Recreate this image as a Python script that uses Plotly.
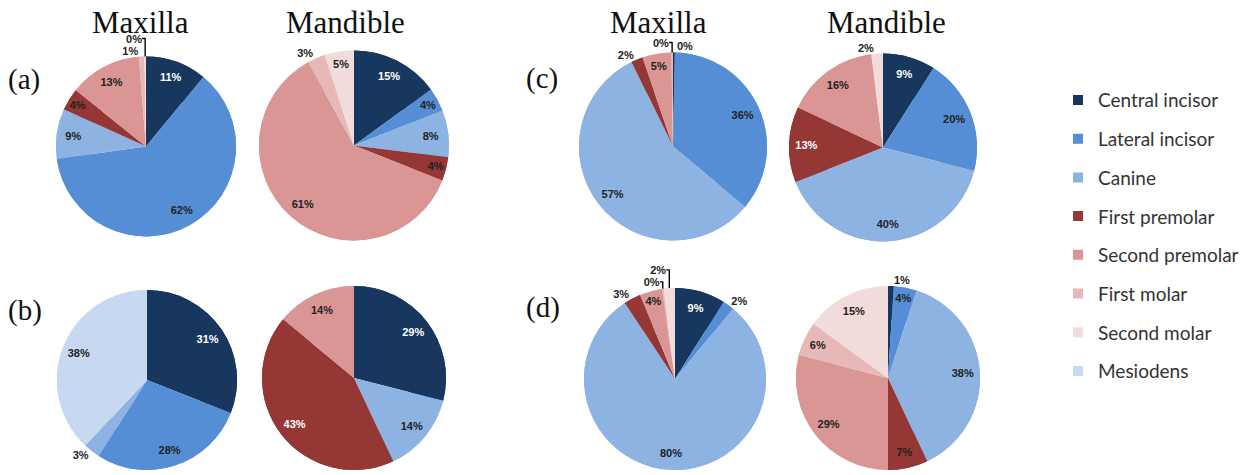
import plotly.graph_objects as go

# Tooth categories, in slice order (clockwise from 12 o'clock)
categories = ["Central incisor", "Lateral incisor", "Canine", "First premolar",
              "Second premolar", "First molar", "Second molar", "Mesiodens"]
colors = ["#17375e", "#558ed5", "#8db3e2", "#953735",
          "#d99694", "#e6b9b8", "#f2dcdb", "#c6d9f1"]
dark_colors = {"#17375e", "#953735"}

# Percent per category; None means the category is absent from that chart.
# Slivers labelled "0%" carry a small fraction so they stay visible.
a_maxilla = [11, 62, 9, 4, 13, 1, 0.3, None]
a_mandible = [15, 4, 8, 4, 61, 3, 5, None]
b_maxilla = [31, 28, 3, None, None, None, None, 38]
b_mandible = [29, None, 14, 43, 14, None, None, None]
c_maxilla = [0.3, 36, 57, 2, 5, 0.3, None, None]
c_mandible = [9, 20, 40, 13, 16, None, 2, None]
d_maxilla = [9, 2, 80, 3, 4, 0.3, 2, None]
d_mandible = [1, 4, 38, 7, 29, 6, 15, None]

column_titles = ["Maxilla", "Mandible", "Maxilla", "Mandible"]
panel_labels = ["(a)", "(b)", "(c)", "(d)"]

W, H = 1259, 475

# (values, centre x px, centre y px, radius px)
pies = [
    (a_maxilla, 146, 148, 91),
    (a_mandible, 354, 147, 96),
    (b_maxilla, 147, 384, 91),
    (b_mandible, 354, 382, 93),
    (c_maxilla, 673, 148, 95),
    (c_mandible, 883, 149, 95),
    (d_maxilla, 675, 383, 92),
    (d_mandible, 888, 382, 93),
]

fig = go.Figure()

for vals, cx, cy, r in pies:
    labs, vs, cols, tcols, tpos = [], [], [], [], []
    for cat, col, v in zip(categories, colors, vals):
        if v is None:
            continue
        labs.append(cat)
        vs.append(v)
        cols.append(col)
        tcols.append("white" if (col in dark_colors and v >= 9) else "#222222")
        tpos.append("inside" if v >= 4 else "outside")
    dom = dict(x=[max(cx - r, 0) / W, min(cx + r, W) / W],
               y=[max(1 - (cy + r) / H, 0), min(1 - (cy - r) / H, 1)])
    common = dict(labels=labs, values=vs, sort=False, direction="clockwise",
                  rotation=0, marker=dict(colors=cols, line=dict(width=0)),
                  showlegend=False, hoverinfo="label+value", domain=dom)
    # full disc
    fig.add_trace(go.Pie(textinfo="none", **common))
    # outer ring carrying the percentage labels near the rim
    fig.add_trace(go.Pie(
        hole=0.63,
        texttemplate="%{value:.0f}%", textposition=tpos,
        insidetextorientation="horizontal",
        textfont=dict(family="Liberation Sans", size=11, color=tcols, weight="bold"),
        **common,
    ))

# Legend entries
for cat, col in zip(categories, colors):
    fig.add_trace(go.Scatter(
        x=[None], y=[None], mode="markers", name=cat, legendgroup=cat,
        marker=dict(symbol="square", size=10, color=col),
    ))

# Column titles and panel letters
title_pos = [(140, 23), (345, 23), (658, 23), (886, 23)]
for t, (x, y) in zip(column_titles, title_pos):
    fig.add_annotation(x=x / W, y=1 - y / H, xref="paper", yref="paper",
                       xanchor="center", yanchor="middle",
                       text=t, showarrow=False,
                       font=dict(family="Liberation Serif", size=31, color="#111111"))
panel_pos = [(24, 80), (25, 314), (542, 79), (543, 311)]
for t, (x, y) in zip(panel_labels, panel_pos):
    fig.add_annotation(x=x / W, y=1 - y / H, xref="paper", yref="paper",
                       xanchor="center", yanchor="middle",
                       text=t, showarrow=False,
                       font=dict(family="Liberation Serif", size=29, color="#111111"))

fig.update_layout(
    width=W, height=H,
    margin=dict(l=0, r=0, t=0, b=0),
    paper_bgcolor="white", plot_bgcolor="white",
    xaxis=dict(visible=False), yaxis=dict(visible=False),
    legend=dict(x=1058 / W, y=1 - 82 / H, xanchor="left", yanchor="top",
                tracegroupgap=11, traceorder="grouped",
                font=dict(family="Lato", size=19, color="#333333"),
                bgcolor="rgba(0,0,0,0)"),
)

fig.write_html("out.html")
